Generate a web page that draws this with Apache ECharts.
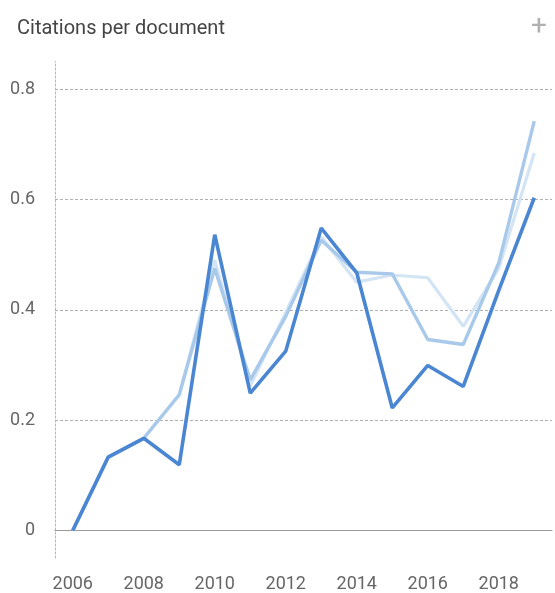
<!DOCTYPE html>
<html>
<head>
<meta charset="utf-8">
<script src="https://cdn.jsdelivr.net/npm/echarts@6/dist/echarts.min.js"></script>
<style>
  html, body { margin: 0; padding: 0; background: #fff; }
  #chart { width: 555px; height: 593px; }
</style>
</head>
<body>
<div id="chart"></div>
<script>
// Years on the horizontal axis
const years = ['2006','2007','2008','2009','2010','2011','2012','2013','2014','2015','2016','2017','2018','2019'];

// Citations per document, three series
const seriesDark   = [0, 0.133, 0.167, 0.119, 0.536, 0.249, 0.325, 0.548, 0.467, 0.222, 0.299, 0.261, 0.435, 0.603];
const seriesMedium = [0, 0.133, 0.167, 0.246, 0.475, 0.273, 0.388, 0.526, 0.468, 0.465, 0.346, 0.337, 0.485, 0.742];
const seriesLight  = [0, 0.133, 0.167, 0.246, 0.490, 0.262, 0.395, 0.532, 0.450, 0.463, 0.458, 0.370, 0.475, 0.684];

// Value-axis labels that are shown
const yTicks = [0, 0.2, 0.4, 0.6, 0.8];

const chart = echarts.init(document.getElementById('chart'), null, { renderer: 'canvas' });

const isShownTick = v => yTicks.some(t => Math.abs(t - v) < 1e-6);

chart.setOption({
  animation: false,
  backgroundColor: '#ffffff',
  title: {
    text: 'Citations per document',
    left: 12,
    top: 14,
    textStyle: { fontFamily: 'Roboto', fontSize: 20, fontWeight: 'normal', color: '#444444' }
  },
  graphic: [{
    type: 'text',
    left: 531,
    top: 13,
    style: { text: '+', fontFamily: 'Roboto', fontSize: 28, fill: '#b0b0b0' }
  }],
  grid: { left: 55, right: 3, top: 61.5, bottom: 34.5, containLabel: false },
  xAxis: {
    type: 'category',
    data: years,
    boundaryGap: true,
    axisLine: { show: true, lineStyle: { color: '#9a9a9a', width: 1 } },
    axisTick: { show: false },
    axisLabel: {
      interval: 1,
      margin: 17,
      fontFamily: 'Roboto',
      fontSize: 18,
      color: '#666666'
    },
    splitLine: { show: false }
  },
  yAxis: {
    type: 'value',
    min: -0.05,
    max: 0.85,
    interval: 0.05,
    axisLine: { show: true, lineStyle: { color: '#b5b5b5', width: 1, type: [2, 2] } },
    axisTick: { show: false },
    axisLabel: {
      margin: 20,
      fontFamily: 'Roboto',
      fontSize: 18,
      color: '#666666',
      formatter: v => isShownTick(v) ? String(Math.round(v * 10) / 10) : ''
    },
    splitLine: {
      show: true,
      showMinLine: true,
      showMaxLine: true,
      lineStyle: {
        color: ['rgba(0,0,0,0)', '#b0b0b0', 'rgba(0,0,0,0)', 'rgba(0,0,0,0)'],
        width: 1,
        type: [3, 2]
      }
    }
  },
  series: [
    {
      name: 'light',
      type: 'line',
      data: seriesLight,
      symbol: 'none',
      z: 1,
      lineStyle: { color: '#d3e4f5', width: 3.2 }
    },
    {
      name: 'medium',
      type: 'line',
      data: seriesMedium,
      symbol: 'none',
      z: 2,
      lineStyle: { color: '#a9c9eb', width: 3.4 }
    },
    {
      name: 'dark',
      type: 'line',
      data: seriesDark,
      symbol: 'none',
      z: 3,
      lineStyle: { color: '#4a86d2', width: 3.6 }
    }
  ]
});
</script>
</body>
</html>
